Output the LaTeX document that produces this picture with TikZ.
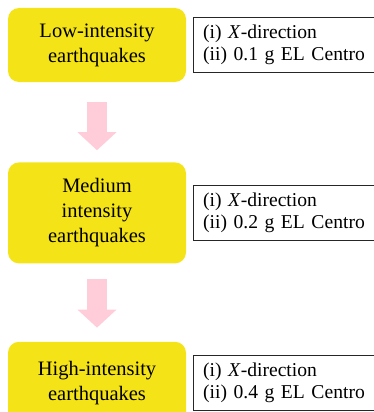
\documentclass[tikz,border=0pt]{standalone}
\usepackage{fontspec}
\setmainfont{Liberation Serif}
\usetikzlibrary{arrows.meta,positioning}
\definecolor{quake}{HTML}{F4E316}
\definecolor{pinkarrow}{HTML}{FFCCD9}

\begin{document}
\begin{tikzpicture}[
  x=1pt, y=1pt,
  level/.style={fill=quake, rounded corners=11pt, align=center,
                text width=178pt, inner sep=0pt,
                font=\fontsize{20.5}{25}\selectfont},
  cond/.style={draw=black!85, line width=0.9pt, align=left,
               text width=200pt, minimum height=55pt,
               inner xsep=9.5pt, inner ysep=0pt,
               font=\fontsize{19.6}{22.5}\selectfont},
  flow/.style={draw=pinkarrow, line width=20pt,
               -{Triangle[width=39pt, length=18pt, line width=0pt, fill=pinkarrow]}}
]
\useasboundingbox (0,0) rectangle (374,-412);

\node[level, minimum height=74pt] (low) at (97,-45) {Low-intensity\\earthquakes};
\node[level, minimum height=101pt, below=80pt of low] (medium) {Medium\\intensity\\earthquakes};
\node[level, minimum height=82pt, below=78pt of medium] (high) {High-intensity\\earthquakes};

\node[cond, right=7pt of low] (lowcond) {(i) \textit{X}-direction\\(ii) 0.1 g EL Centro};
\node[cond, right=7pt of medium] (medcond) {(i) \textit{X}-direction\\(ii) 0.2 g EL Centro};
\node[cond, right=7pt of high] (highcond) {(i) \textit{X}-direction\\(ii) 0.4 g EL Centro};

\draw[flow, shorten <=20pt, shorten >=12pt] (low) -- (medium);
\draw[flow, shorten <=15pt, shorten >=14pt] (medium) -- (high);
\end{tikzpicture}
\end{document}
